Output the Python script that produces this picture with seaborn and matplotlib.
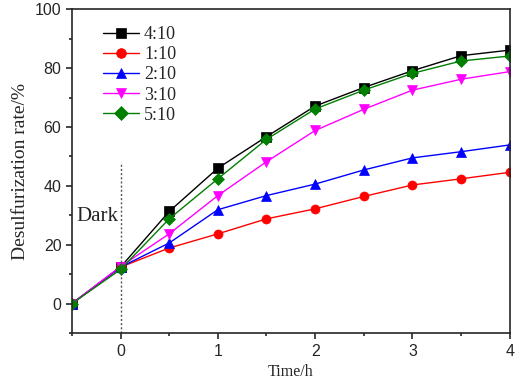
import matplotlib.pyplot as plt
import seaborn as sns
import pandas as pd

# time points (h) and desulfurization rates (%) for each ratio
time_h = [-0.5, 0, 0.5, 1, 1.5, 2, 2.5, 3, 3.5, 4]
r4_10 = [0, 12.4, 31.3, 46.0, 56.7, 67.1, 73.4, 79.1, 84.2, 86.1]
r1_10 = [0, 12.4, 18.9, 23.7, 28.8, 32.2, 36.4, 40.3, 42.4, 44.6]
r2_10 = [0, 12.4, 20.6, 31.9, 36.7, 40.6, 45.4, 49.5, 51.6, 53.9]
r3_10 = [0, 12.6, 23.7, 36.7, 48.2, 58.8, 66.0, 72.5, 76.2, 78.8]
r5_10 = [0, 11.6, 28.8, 42.4, 55.8, 66.1, 72.5, 78.2, 82.4, 84.1]
labels = ['4:10', '1:10', '2:10', '3:10', '5:10']

series = [r4_10, r1_10, r2_10, r3_10, r5_10]
df = pd.concat([pd.DataFrame({'Time': time_h, 'Rate': s, 'Ratio': lab})
                for s, lab in zip(series, labels)])

colors = {'4:10': 'black', '1:10': '#ff0000', '2:10': '#0000ff',
          '3:10': '#ff00ff', '5:10': '#007f00'}
markers = {'4:10': 's', '1:10': 'o', '2:10': '^', '3:10': 'v', '5:10': 'D'}

sns.set_style('ticks')
fig = plt.figure(figsize=(5.17, 3.82), dpi=100)
ax = fig.add_axes([0.139, 0.128, 0.847, 0.848])

sns.lineplot(data=df, x='Time', y='Rate', hue='Ratio', style='Ratio',
             palette=colors, markers=markers, dashes=False, hue_order=labels,
             style_order=labels, markersize=6.5, markeredgewidth=0.5,
             linewidth=1.0, ax=ax)
for ln in ax.lines:
    ln.set_markeredgecolor(ln.get_color())

# dark period marker
ax.plot([0, 0], [-10, 48], color='#555555', linestyle=(0, (1.5, 1.5)), linewidth=1)
ax.text(-0.45, 29.5, 'Dark', fontsize=15, family='Liberation Serif', va='center')

ax.set_xlim(-0.5, 4)
ax.set_ylim(-10, 100)
ax.set_xticks([0, 1, 2, 3, 4])
ax.set_xticks([-0.5, 0.5, 1.5, 2.5, 3.5], minor=True)
ax.set_yticks([0, 20, 40, 60, 80, 100])
ax.set_yticks([-10, 10, 30, 50, 70, 90], minor=True)
ax.tick_params(which='major', length=4, width=1.2, labelsize=11.5)
ax.tick_params(which='minor', length=2.5, width=1.2)
for lab in ax.get_xticklabels() + ax.get_yticklabels():
    lab.set_family('Liberation Sans')
for sp in ax.spines.values():
    sp.set_linewidth(1.2)

ax.set_xlabel('Time/h', family='Liberation Serif', fontsize=11.5)
ax.set_ylabel('Desulfurization rate/%', family='Liberation Serif', fontsize=14)

leg = ax.legend(loc='upper left', frameon=False, prop={'family': 'Liberation Serif', 'size': 13},
                bbox_to_anchor=(0.07, 0.947), borderaxespad=0, borderpad=0,
                handlelength=2.0, handletextpad=0.3, labelspacing=0.17, title=None)
for h in leg.legend_handles:
    h.set_markersize(7)
    h.set_markeredgecolor(h.get_color())

fig.savefig('out.png', dpi=100)
